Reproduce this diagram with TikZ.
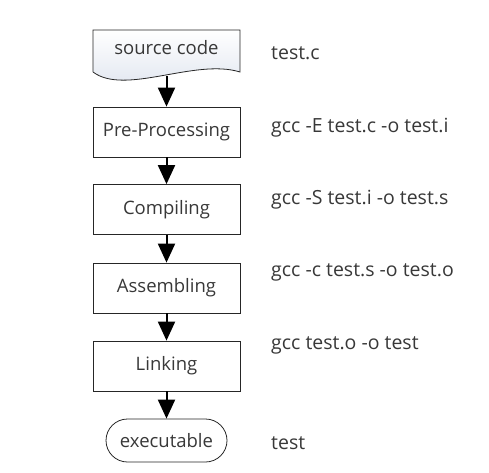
\documentclass[tikz,border=0pt]{standalone}
\usepackage{fontspec}
\setmainfont{Open Sans}
\usetikzlibrary{arrows.meta}
\definecolor{txtgray}{HTML}{383838}
\definecolor{docshade}{HTML}{DDE3EE}

\begin{document}
\begin{tikzpicture}[x=1pt,y=-1pt,
	stage/.style={draw=black!85,line width=0.8pt,minimum width=147pt,minimum height=50pt,
		text=txtgray,font=\fontsize{18.5}{20}\selectfont},
	flow/.style={line width=2pt,-{Triangle[length=19pt,width=17pt]}},
	cmd/.style={anchor=west,inner sep=0pt,text=txtgray,font=\fontsize{19.5}{21}\selectfont}]
	\useasboundingbox (0,0) rectangle (489,472);
	\shade[top color=white,bottom color=docshade,draw=black!85,line width=0.8pt]
		(93,72) -- (93,30) -- (240,30) -- (240,72)
		.. controls (195,58) and (125,96) .. (93,72);
	\node[inner sep=0pt,text=txtgray,font=\fontsize{18.5}{20}\selectfont] (src) at (166.5,48) {source code};
	\coordinate (srcb) at (166.5,76);
	\node[stage] (pre) at (166.5,132) {Pre-Processing};
	\node[stage] (comp) at (166.5,209.5) {Compiling};
	\node[stage] (asm) at (166.5,288) {Assembling};
	\node[stage] (link) at (166.5,366) {Linking};
	\node[stage,minimum width=121pt,minimum height=43pt,rounded corners=21.5pt] (exe) at (166.5,440.5) {executable};
	\draw[flow] (srcb) -- (pre);
	\draw[flow] (pre) -- (comp);
	\draw[flow] (comp) -- (asm);
	\draw[flow] (asm) -- (link);
	\draw[flow] (link) -- (exe);
	\node[cmd] (lsrc) at (271,53) {test.c};
	\node[cmd] (lpre) at (271,128) {gcc -E test.c -o test.i};
	\node[cmd] (lcomp) at (271,200) {gcc -S test.i -o test.s};
	\node[cmd] (lasm) at (271,272) {gcc -c test.s -o test.o};
	\node[cmd] (llink) at (271,345) {gcc test.o -o test};
	\node[cmd] (lexe) at (271,443) {test};
\end{tikzpicture}
\end{document}
